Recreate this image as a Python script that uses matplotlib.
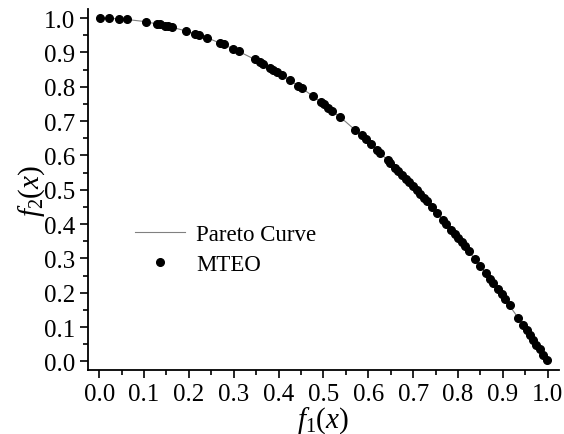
import matplotlib
matplotlib.use('Agg')
import matplotlib.pyplot as plt
from matplotlib.ticker import MultipleLocator

plt.rcParams['font.family'] = 'Liberation Serif'
plt.rcParams['mathtext.fontset'] = 'custom'
plt.rcParams['mathtext.rm'] = 'Liberation Serif'
plt.rcParams['mathtext.it'] = 'Liberation Serif:italic'

# points
mteo_f1 = [0.001, 0.022, 0.045, 0.063, 0.104, 0.128, 0.136, 0.147, 0.154, 0.163,
           0.194, 0.214, 0.223, 0.241, 0.269, 0.278, 0.299, 0.312, 0.347, 0.359,
           0.366, 0.381, 0.388, 0.397, 0.408, 0.425, 0.444, 0.452, 0.476, 0.494,
           0.501, 0.511, 0.520, 0.538, 0.570, 0.585, 0.594, 0.606, 0.620, 0.626,
           0.643, 0.649, 0.660, 0.667, 0.675, 0.684, 0.691, 0.700, 0.708, 0.715,
           0.724, 0.731, 0.741, 0.754, 0.767, 0.774, 0.785, 0.793, 0.800, 0.808,
           0.815, 0.824, 0.837, 0.850, 0.862, 0.871, 0.878, 0.889, 0.897, 0.904,
           0.915, 0.934, 0.945, 0.953, 0.960, 0.968, 0.975, 0.982, 0.990, 0.998]
mteo_f2 = [1.000, 1.000, 0.998, 0.996, 0.989, 0.984, 0.982, 0.978, 0.976, 0.973,
           0.962, 0.954, 0.950, 0.942, 0.928, 0.923, 0.911, 0.903, 0.880, 0.871,
           0.866, 0.855, 0.849, 0.842, 0.834, 0.819, 0.803, 0.796, 0.773, 0.756,
           0.749, 0.739, 0.730, 0.711, 0.675, 0.658, 0.647, 0.633, 0.616, 0.608,
           0.587, 0.579, 0.564, 0.555, 0.544, 0.532, 0.523, 0.510, 0.499, 0.489,
           0.476, 0.466, 0.451, 0.431, 0.412, 0.401, 0.384, 0.371, 0.360, 0.347,
           0.336, 0.321, 0.299, 0.278, 0.257, 0.241, 0.229, 0.210, 0.195, 0.183,
           0.163, 0.128, 0.107, 0.092, 0.078, 0.063, 0.049, 0.036, 0.020, 0.004]

curve_f1 = [0.0, 0.05, 0.1, 0.15, 0.2, 0.25, 0.3, 0.35, 0.4, 0.45, 0.5,
            0.55, 0.6, 0.65, 0.7, 0.75, 0.8, 0.85, 0.9, 0.95, 1.0]
curve_f2 = [1.0, 0.9975, 0.99, 0.9775, 0.96, 0.9375, 0.91, 0.8775, 0.84, 0.7975, 0.75,
            0.6975, 0.64, 0.5775, 0.51, 0.4375, 0.36, 0.2775, 0.19, 0.0975, 0.0]

fig = plt.figure(figsize=(5.64, 4.35), dpi=100)
ax = fig.add_axes([0.156, 0.147, 0.835, 0.829])

ax.plot(curve_f1, curve_f2, color='#808080', lw=0.8, label='Pareto Curve')
ax.plot(mteo_f1, mteo_f2, 'o', color='black', ms=5.5, label='MTEO')

ax.set_xlim(-0.025, 1.025)
ax.set_ylim(-0.025, 1.025)
ax.xaxis.set_major_locator(MultipleLocator(0.1))
ax.xaxis.set_minor_locator(MultipleLocator(0.05))
ax.yaxis.set_major_locator(MultipleLocator(0.1))
ax.yaxis.set_minor_locator(MultipleLocator(0.05))
ax.xaxis.set_major_formatter(matplotlib.ticker.FormatStrFormatter('%.1f'))
ax.yaxis.set_major_formatter(matplotlib.ticker.FormatStrFormatter('%.1f'))
ax.tick_params(which='major', direction='out', length=6, width=1.2, labelsize=18, pad=3)
ax.tick_params(which='minor', direction='out', length=3.5, width=1.2)
for s in ['top', 'right']:
    ax.spines[s].set_visible(False)
for s in ['left', 'bottom']:
    ax.spines[s].set_linewidth(1.3)

ax.set_xlabel('$f_1(x)$', fontsize=21, labelpad=0)
ax.set_ylabel('$f_2(x)$', fontsize=21, labelpad=-2)

ax.legend(loc='upper left', bbox_to_anchor=(0.055, 0.462), frameon=False,
          fontsize=16.5, handlelength=2.2, handletextpad=0.5, labelspacing=0.4)

fig.savefig('out.png', dpi=100)
